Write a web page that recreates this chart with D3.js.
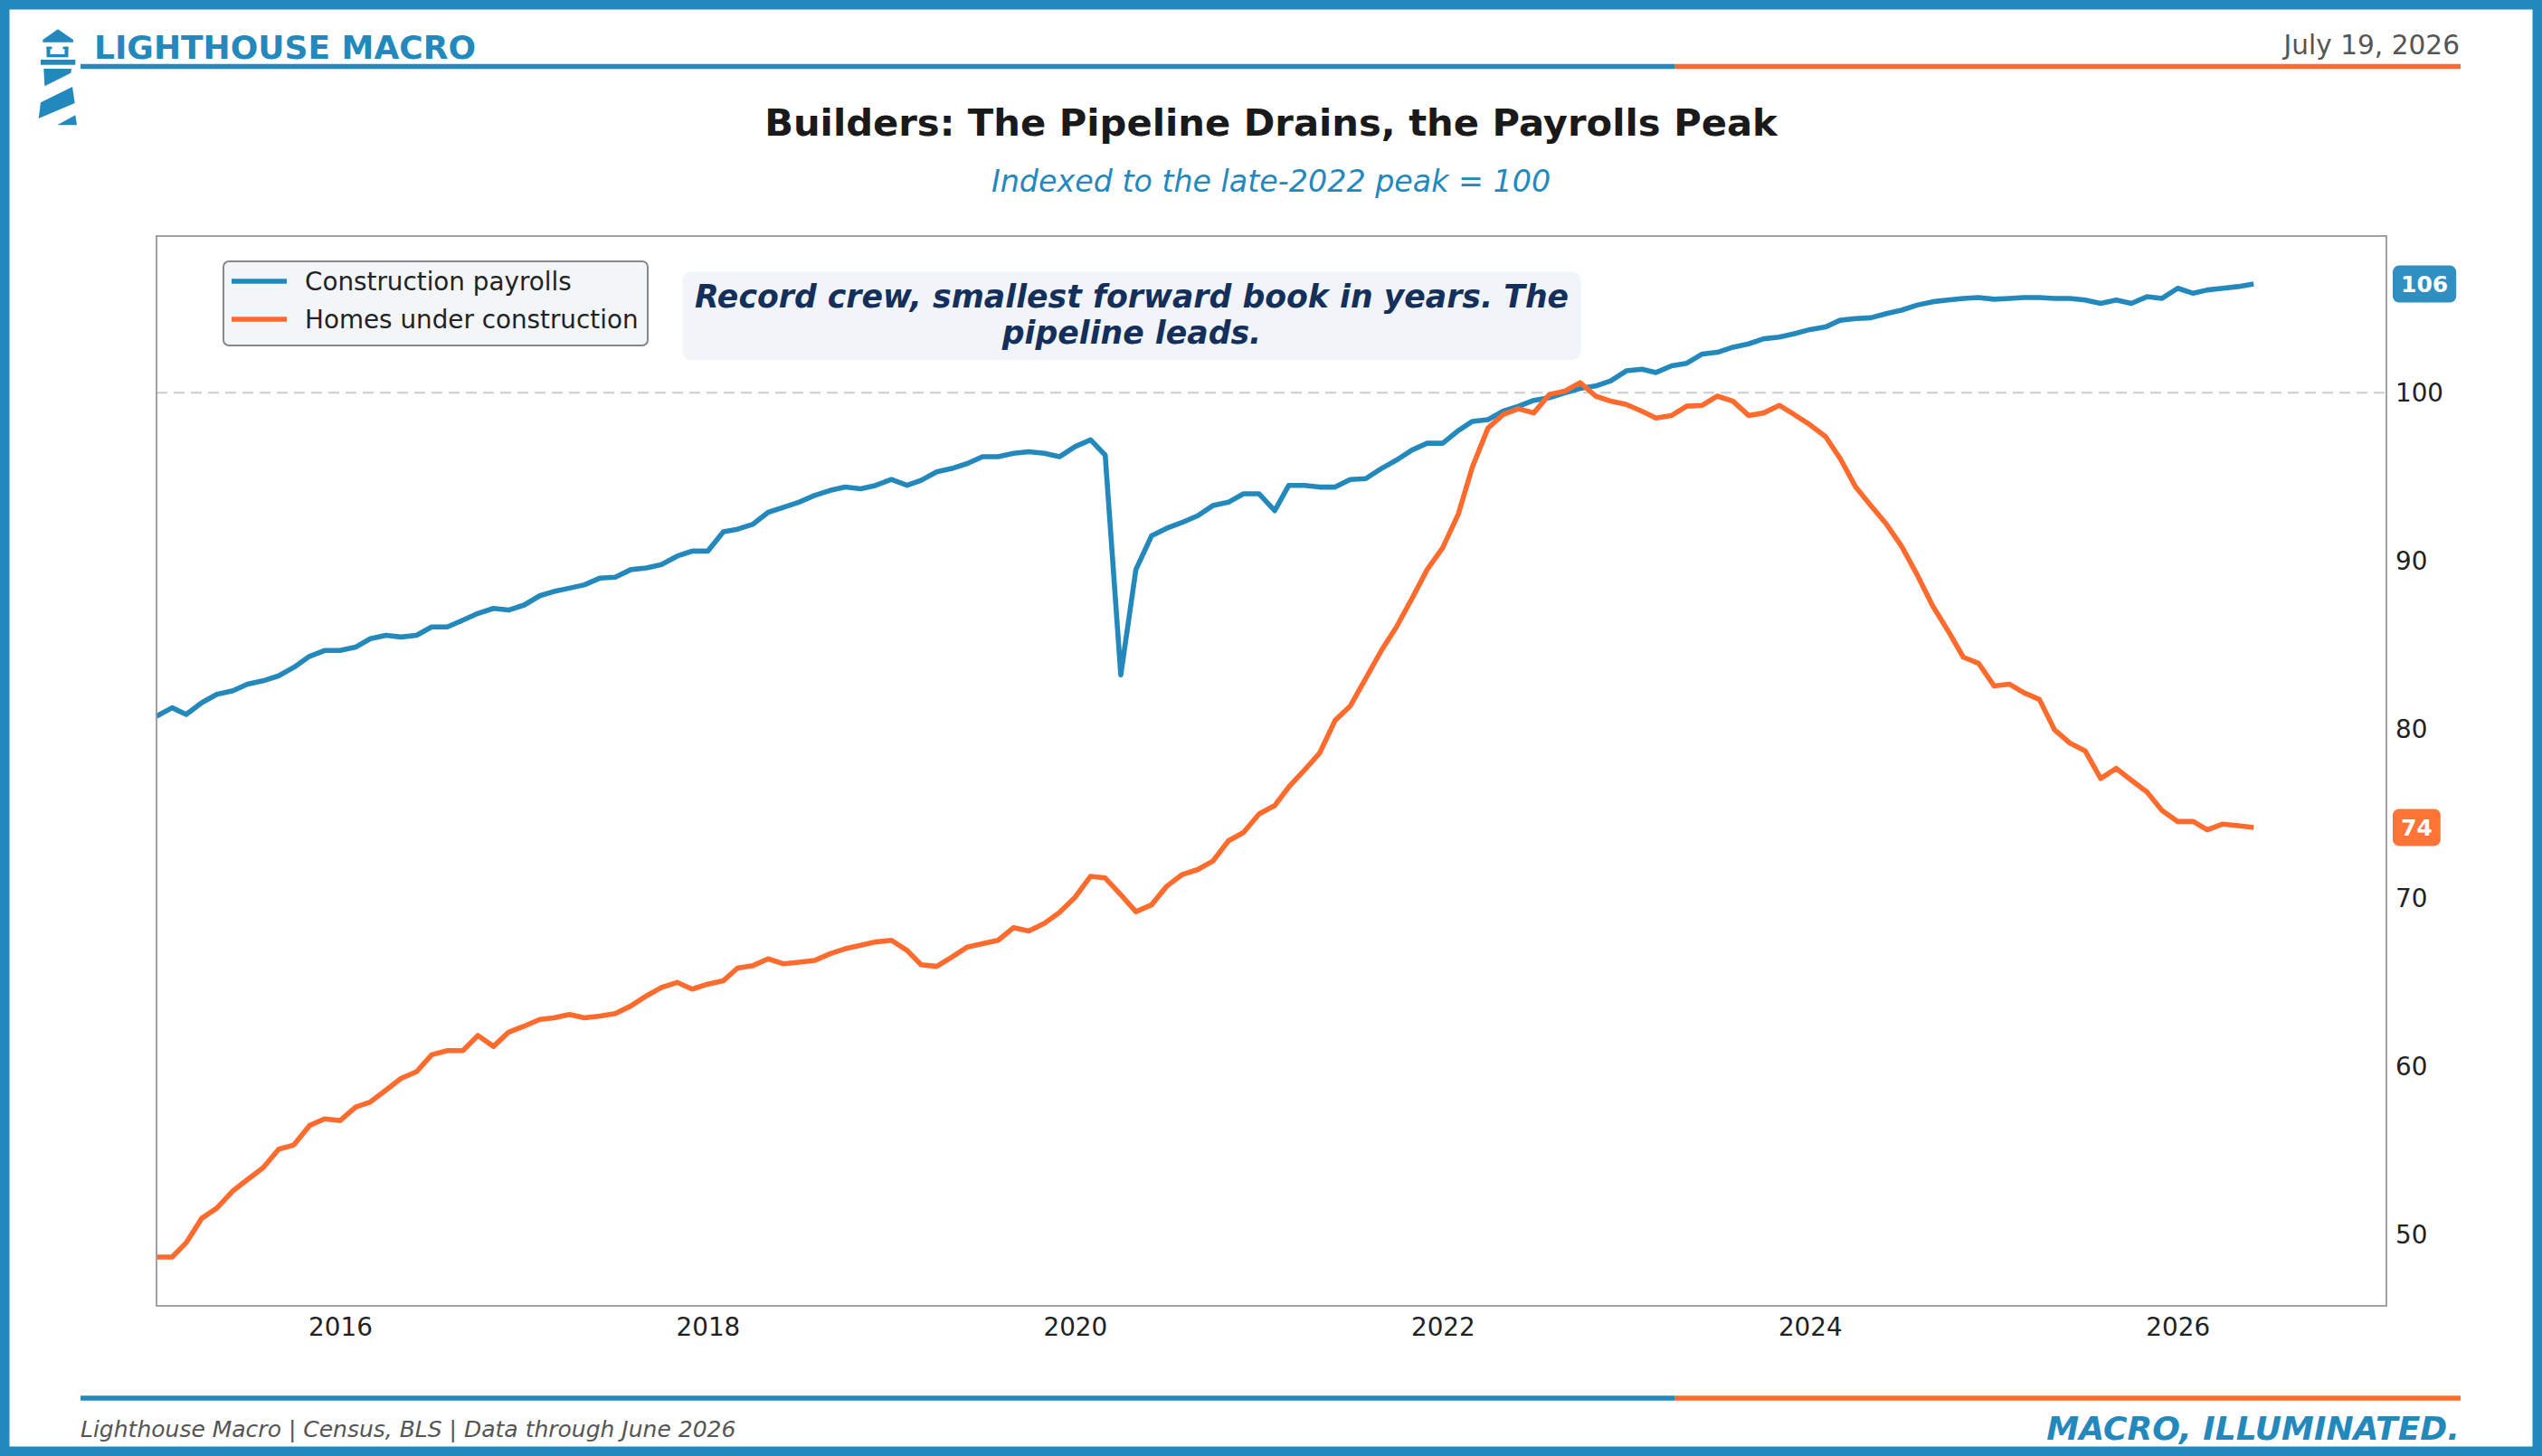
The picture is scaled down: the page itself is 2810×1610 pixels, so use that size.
<!DOCTYPE html>
<html>
<head>
<meta charset="utf-8">
<script src="https://cdn.jsdelivr.net/npm/d3@7"></script>
<style>
  html, body { margin: 0; padding: 0; background: #fff; overflow: hidden; }
  svg { display: block; font-family: "DejaVu Sans", sans-serif; }
</style>
</head>
<body>
<div id="chart"></div>
<script>
// Canvas
const width = 2810;
const height = 1610;
const marginTop = 261;
const marginRight = 172;
const marginBottom = 166;
const marginLeft = 173;

const blue = "#2389BD";
const orange = "#FF6B2C";

// Data: monthly, Jan 2015 .. Jun 2026, indexed to late-2022 peak = 100
const firstMonth = new Date(Date.UTC(2015, 0, 1));
const lastMonth = new Date(Date.UTC(2026, 5, 1));
const xEnd = new Date(Date.UTC(2027, 1, 20));

const payrolls = [
    80.8, 81.3, 80.9, 81.6, 82.1, 82.3, 82.7, 82.9, 83.2, 83.7, 84.35, 84.7,
    84.7, 84.9, 85.4, 85.6, 85.5, 85.6, 86.1, 86.1, 86.5, 86.9, 87.2, 87.1,
    87.4, 87.95, 88.2, 88.4, 88.6, 89.0, 89.05, 89.5, 89.6, 89.8, 90.3, 90.6,
    90.6, 91.75, 91.9, 92.2, 92.9, 93.2, 93.5, 93.9, 94.2, 94.4, 94.3, 94.5,
    94.85, 94.5, 94.8, 95.3, 95.5, 95.8, 96.2, 96.2, 96.4, 96.5, 96.4, 96.2,
    96.8, 97.2, 96.3, 83.25, 89.5, 91.5, 91.95, 92.3, 92.7, 93.3, 93.5, 94.0,
    94.0, 93.0, 94.5, 94.5, 94.4, 94.4, 94.85, 94.9, 95.5, 96.0, 96.6, 97.0,
    97.0, 97.75, 98.3, 98.4, 98.9, 99.2, 99.55, 99.7, 100.0, 100.25, 100.4, 100.7,
    101.3, 101.4, 101.2, 101.6, 101.75, 102.3, 102.4, 102.7, 102.9, 103.2, 103.3, 103.5,
    103.75, 103.9, 104.3, 104.4, 104.45, 104.7, 104.9, 105.2, 105.4, 105.5, 105.6, 105.65,
    105.55, 105.6, 105.65, 105.65, 105.6, 105.6, 105.5, 105.3, 105.5, 105.3, 105.7, 105.6,
    106.2, 105.9, 106.1, 106.2, 106.3, 106.45
];

const homesUnderConstruction = [
    48.7, 48.7, 49.55, 51.0, 51.6, 52.6, 53.3, 54.0, 55.1, 55.35, 56.5, 56.9,
    56.8, 57.6, 57.9, 58.6, 59.3, 59.7, 60.7, 60.95, 60.95, 61.85, 61.2, 62.05,
    62.4, 62.8, 62.9, 63.1, 62.9, 63.0, 63.15, 63.6, 64.2, 64.7, 65.0, 64.6,
    64.9, 65.1, 65.85, 66.0, 66.4, 66.1, 66.2, 66.3, 66.7, 67.0, 67.2, 67.4,
    67.5, 66.9, 66.05, 65.95, 66.5, 67.1, 67.3, 67.5, 68.25, 68.05, 68.5, 69.15,
    70.05, 71.3, 71.2, 70.2, 69.2, 69.6, 70.7, 71.4, 71.7, 72.2, 73.4, 73.9,
    75.0, 75.5, 76.6, 77.6, 78.6, 80.55, 81.4, 83.05, 84.7, 86.1, 87.8, 89.5,
    90.8, 92.8, 95.6, 97.9, 98.7, 99.05, 98.8, 99.9, 100.1, 100.6, 99.8, 99.5,
    99.3, 98.9, 98.5, 98.65, 99.2, 99.25, 99.8, 99.5, 98.65, 98.8, 99.25, 98.7,
    98.1, 97.4, 96.1, 94.4, 93.3, 92.2, 90.9, 89.2, 87.35, 85.9, 84.3, 83.95,
    82.6, 82.7, 82.2, 81.8, 80.0, 79.2, 78.75, 77.1, 77.7, 77.0, 76.3, 75.2,
    74.55, 74.55, 74.05, 74.4, 74.3, 74.2
];

const seriesNames = ["Construction payrolls", "Homes under construction"];
const xTickYears = [2016, 2018, 2020, 2022, 2024, 2026];
const yTicks = [50, 60, 70, 80, 90, 100];
const yDomain = [45.8, 109.3];
const refLevel = 100;

const titleText = "Builders: The Pipeline Drains, the Payrolls Peak";
const subtitleText = "Indexed to the late-2022 peak = 100";
const noteLines = ["Record crew, smallest forward book in years. The", "pipeline leads."];
const brandText = "LIGHTHOUSE MACRO";
const dateText = "July 19, 2026";
const sourceText = "Lighthouse Macro | Census, BLS | Data through June 2026";
const taglineText = "MACRO, ILLUMINATED.";

const months = d3.utcMonth.range(firstMonth, d3.utcMonth.offset(lastMonth, 1));
const series = [
    { name: seriesNames[0], color: blue, values: payrolls },
    { name: seriesNames[1], color: orange, values: homesUnderConstruction }
];

// Scales
const x = d3.scaleUtc()
    .domain([firstMonth, xEnd])
    .range([marginLeft, width - marginRight]);

const y = d3.scaleLinear()
    .domain(yDomain)
    .range([height - marginBottom, marginTop]);

const svg = d3.select("#chart")
    .append("svg")
    .attr("width", width)
    .attr("height", height)
    .attr("viewBox", [0, 0, width, height]);

// Page frame
svg.append("rect")
    .attr("x", 5.25).attr("y", 5.25)
    .attr("width", width - 10.5).attr("height", height - 10.5)
    .attr("fill", "#fff")
    .attr("stroke", blue)
    .attr("stroke-width", 10.5);

// Lighthouse mark
const icon = svg.append("g").attr("fill", blue);
[
    [[47.3, 46.7], [47.3, 44], [64, 32.3], [81, 44], [81, 46.7]],
    [[48.3, 76], [79, 76], [78.3, 80.7], [49.3, 95.3]],
    [[45, 113.3], [80, 96], [82.7, 114], [42.7, 131]],
    [[63.3, 138.3], [83.3, 127.3], [85, 138.3]]
].forEach(pts => icon.append("polygon").attr("points", pts.map(p => p.join(",")).join(" ")));
icon.append("rect").attr("x", 51.5).attr("y", 51.7).attr("width", 4).attr("height", 11.6);
icon.append("rect").attr("x", 71.5).attr("y", 51.7).attr("width", 4).attr("height", 11.6);
icon.append("rect").attr("x", 51.5).attr("y", 51.7).attr("width", 6).attr("height", 2.6);
icon.append("rect").attr("x", 69.5).attr("y", 51.7).attr("width", 6).attr("height", 2.6);
icon.append("rect").attr("x", 55).attr("y", 60).attr("width", 17).attr("height", 3.3);
icon.append("rect").attr("x", 45).attr("y", 66).attr("width", 38.3).attr("height", 5.7);

// Two-tone rules (header and footer)
function rule(yPos) {
    svg.append("line")
        .attr("x1", 89).attr("x2", 1851)
        .attr("y1", yPos).attr("y2", yPos)
        .attr("stroke", blue).attr("stroke-width", 5.5);
    svg.append("line")
        .attr("x1", 1851).attr("x2", 2720)
        .attr("y1", yPos).attr("y2", yPos)
        .attr("stroke", orange).attr("stroke-width", 5.5);
}
rule(73.5);
rule(1546);

// Header texts
svg.append("text")
    .attr("x", 104).attr("y", 65)
    .attr("font-size", 36).attr("font-weight", "bold")
    .attr("fill", blue)
    .text(brandText);

svg.append("text")
    .attr("x", 2719).attr("y", 60)
    .attr("text-anchor", "end")
    .attr("font-size", 29.6).attr("fill", "#555")
    .text(dateText);

svg.append("text")
    .attr("x", width / 2).attr("y", 150)
    .attr("text-anchor", "middle")
    .attr("font-size", 41.7).attr("font-weight", "bold")
    .attr("fill", "#1a1a1a")
    .text(titleText);

svg.append("text")
    .attr("x", width / 2).attr("y", 212)
    .attr("text-anchor", "middle")
    .attr("font-size", 33.3).attr("font-style", "italic")
    .attr("fill", blue)
    .text(subtitleText);

// Footer texts
svg.append("text")
    .attr("x", 89).attr("y", 1589)
    .attr("font-size", 25).attr("font-style", "italic")
    .attr("fill", "#555")
    .text(sourceText);

svg.append("text")
    .attr("x", 2719).attr("y", 1592)
    .attr("text-anchor", "end")
    .attr("font-size", 36.1).attr("font-style", "italic").attr("font-weight", "bold")
    .attr("fill", blue)
    .text(taglineText);

// Reference line at 100
svg.append("line")
    .attr("x1", marginLeft).attr("x2", width - marginRight)
    .attr("y1", y(refLevel)).attr("y2", y(refLevel))
    .attr("stroke", "#cccccc")
    .attr("stroke-width", 2.2)
    .attr("stroke-dasharray", "12,7");

// Series lines
const line = d3.line()
    .x((d, i) => x(months[i]))
    .y(d => y(d));

svg.append("g")
    .selectAll("path")
    .data(series)
    .join("path")
    .attr("fill", "none")
    .attr("stroke", d => d.color)
    .attr("stroke-width", 5.6)
    .attr("stroke-linejoin", "round")
    .attr("d", d => line(d.values));

// Plot frame
svg.append("rect")
    .attr("x", marginLeft).attr("y", marginTop)
    .attr("width", width - marginLeft - marginRight)
    .attr("height", height - marginTop - marginBottom)
    .attr("fill", "none")
    .attr("stroke", "#999")
    .attr("stroke-width", 1.8);

// Axes
const xAxis = svg.append("g")
    .attr("transform", `translate(0,${height - marginBottom})`)
    .call(d3.axisBottom(x)
        .tickValues(xTickYears.map(yr => new Date(Date.UTC(yr, 0, 1))))
        .tickFormat(d3.utcFormat("%Y"))
        .tickSize(0)
        .tickPadding(13));

const yAxis = svg.append("g")
    .attr("transform", `translate(${width - marginRight},0)`)
    .call(d3.axisRight(y)
        .tickValues(yTicks)
        .tickSize(0)
        .tickPadding(10));

[xAxis, yAxis].forEach(axis => {
    axis.select(".domain").remove();
    axis.selectAll(".tick text")
        .attr("fill", "#222")
        .attr("font-size", 27.8)
        .attr("font-family", "DejaVu Sans, sans-serif");
});

// End-value badges
series.forEach(s => {
    const last = s.values[s.values.length - 1];
    const label = d3.format(".0f")(last);
    const bw = label.length * 17.4 + 18;
    const g = svg.append("g")
        .attr("transform", `translate(${width - marginRight + 7},${y(last)})`);
    g.append("rect")
        .attr("x", 0).attr("y", -20.5)
        .attr("width", bw).attr("height", 41)
        .attr("rx", 7)
        .attr("fill", s.color)
        .attr("fill-opacity", 0.95);
    g.append("text")
        .attr("x", bw / 2).attr("y", 0)
        .attr("dy", "0.36em")
        .attr("text-anchor", "middle")
        .attr("font-size", 25).attr("font-weight", "bold")
        .attr("fill", "#fff")
        .text(label);
});

// Legend
const legend = svg.append("g");
legend.append("rect")
    .attr("x", 247).attr("y", 289)
    .attr("width", 469).attr("height", 93)
    .attr("rx", 6)
    .attr("fill", "#f3f6f9")
    .attr("stroke", "#888")
    .attr("stroke-width", 2);

legend.selectAll("g.item")
    .data(series)
    .join("g")
    .attr("class", "item")
    .attr("transform", (d, i) => `translate(256,${311 + i * 42})`)
    .each(function (d) {
        const g = d3.select(this);
        g.append("line")
            .attr("x1", 0).attr("x2", 61)
            .attr("stroke", d.color)
            .attr("stroke-width", 5.6);
        g.append("text")
            .attr("x", 81).attr("dy", "0.36em")
            .attr("font-size", 27.8)
            .attr("fill", "#222")
            .text(d.name);
    });

// Annotation box
svg.append("rect")
    .attr("x", 754.5).attr("y", 300.5)
    .attr("width", 993).attr("height", 97.5)
    .attr("rx", 9)
    .attr("fill", "#f1f5f9");

svg.append("g")
    .selectAll("text")
    .data(noteLines)
    .join("text")
    .attr("x", 1251)
    .attr("y", (d, i) => 340 + i * 40)
    .attr("text-anchor", "middle")
    .attr("font-size", 34.7)
    .attr("font-weight", "bold")
    .attr("font-style", "italic")
    .attr("fill", "#14305a")
    .text(d => d);
</script>
</body>
</html>
